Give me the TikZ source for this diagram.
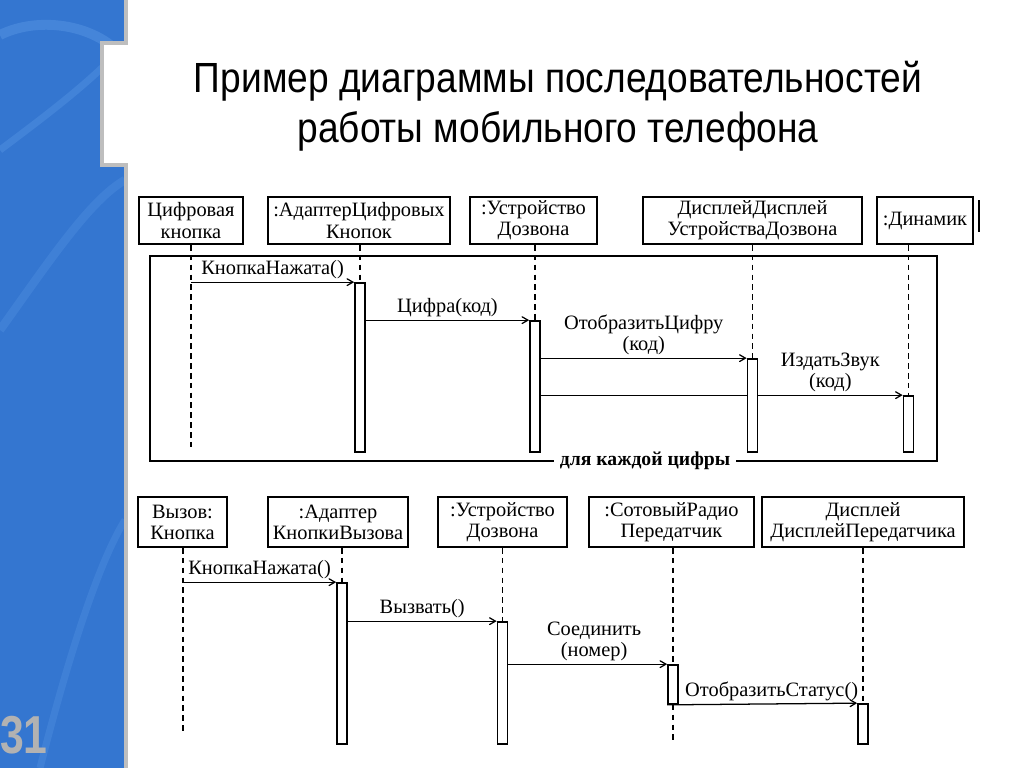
\documentclass[tikz,border=0pt]{standalone}
\usepackage{fontspec}
\setmainfont{Liberation Serif}
\newfontfamily\titlefont[FakeStretch=0.88]{Liberation Sans}
\newfontfamily\numfont[FakeStretch=0.8]{Liberation Sans}
\usetikzlibrary{arrows}
\usetikzlibrary{backgrounds}
\definecolor{slideblue}{RGB}{52,118,208}
\definecolor{swirl}{RGB}{110,170,240}
\definecolor{rimgray}{RGB}{190,190,190}
\definecolor{numgray}{RGB}{178,178,178}

\begin{document}
\begin{tikzpicture}
	[x=0.025cm,y=-0.025cm,>=angle 60,
	 every node/.style={font=\fontsize{14.5}{15}\selectfont},
	 box/.style={draw,line width=1.4pt,fill=white,align=center,inner sep=0pt},
	 bar/.style={draw,line width=1.2pt,fill=white,inner sep=0pt,minimum width=10*0.025cm},
	 life/.style={line width=1.1pt,dash pattern=on 4pt off 3pt},
	 msg/.style={->,line width=0.9pt},
	 lbl/.style={align=center,inner sep=2pt}]
	\useasboundingbox (0,0) rectangle (1024,768);

	% slide strip
	\fill[slideblue] (0,0) -- (125,0) -- (125,43) -- (102,43) -- (102,165) -- (125,165) -- (125,768) -- (0,768) -- cycle;
	\begin{scope}
	\clip (0,0) -- (125,0) -- (125,43) -- (102,43) -- (102,165) -- (125,165) -- (125,768) -- (0,768) -- cycle;
	\draw[swirl,line width=7pt,opacity=.3] (0,35) .. controls (40,15) and (100,25) .. (125,60);
	\draw[swirl,line width=5pt,opacity=.25] (0,150) .. controls (40,120) and (80,90) .. (110,60);
	\draw[swirl,line width=6pt,opacity=.2] (0,330) .. controls (50,260) and (90,200) .. (125,180);
	\draw[swirl,line width=5pt,opacity=.2] (40,768) .. controls (70,650) and (100,560) .. (125,520);
	\end{scope}
	\draw[rimgray,line width=2.5pt] (126,0) -- (126,43) -- (102,43) -- (102,165) -- (126,165) -- (126,768);
	\node[font=\numfont\bfseries\fontsize{38}{38}\selectfont,text=numgray,anchor=base east,inner sep=0pt] (num) at (48,753) {31};

	% title
	\node[font=\titlefont\fontsize{30}{36}\selectfont,anchor=base] (t1) at (558,93) {Пример диаграммы последовательностей};
	\node[font=\titlefont\fontsize{30}{36}\selectfont,anchor=base] (t2) at (558,143) {работы мобильного телефона};

	% first diagram
	\node[box,minimum width=104*0.025cm,minimum height=47*0.025cm] (n1) at (191,220.5) {Цифровая\\кнопка};
	\node[box,minimum width=182*0.025cm,minimum height=47*0.025cm] (n2) at (359,220.5) {:АдаптерЦифровых\\Кнопок};
	\node[box,minimum width=127*0.025cm,minimum height=47*0.025cm] (n3) at (533.5,220.5) {:Устройство\\Дозвона};
	\node[box,minimum width=219*0.025cm,minimum height=47*0.025cm] (n4) at (752.5,220.5) {ДисплейДисплей\\УстройстваДозвона};
	\node[box,minimum width=96*0.025cm,minimum height=47*0.025cm] (n5) at (925,220.5) {:Динамик};
	\draw[line width=1.2pt] (979,200) -- (979,232);

	\draw[line width=1.3pt] (150,256) rectangle (937,461);
	\node[fill=white,font=\bfseries\fontsize{14}{15}\selectfont,inner xsep=4pt,inner ysep=1pt] (loop) at (645,461) {для каждой цифры};

	\node[bar,minimum height=169*0.025cm] (b1) at (360,367.5) {};
	\node[bar,minimum height=131*0.025cm] (b2) at (535,386.5) {};
	\node[bar,minimum height=93*0.025cm] (b3) at (752.5,405.5) {};
	\node[bar,minimum height=56*0.025cm] (b4) at (908.5,424) {};

	\coordinate (e1) at (191,448);
	\draw[life] (n1.south) -- (e1);
	\draw[life] (n2.south -| b1.north) -- (b1.north);
	\draw[life] (n3.south -| b2.north) -- (b2.north);
	\draw[life] (n4.south -| b3.north) -- (b3.north);
	\draw[life] (n5.south -| b4.north) -- (b4.north);

	\begin{scope}[on background layer]
	\draw[msg] (n1.south |- b1.north) -- node[lbl,above] {КнопкаНажата()} (b1.north west);
	\draw[msg] (b1.east |- b2.north) -- node[lbl,above] {Цифра(код)} (b2.north west);
	\draw[msg] (b2.east |- b3.north) -- node[lbl,above] {ОтобразитьЦифру\\(код)} (b3.north west);
	\draw[msg] (b2.east |- b4.north) -- node[lbl,above,pos=0.8] {ИздатьЗвук\\(код)} (b4.north west);
	\end{scope}

	% second diagram
	\node[box,minimum width=89*0.025cm,minimum height=50*0.025cm] (p1) at (182.5,522) {Вызов:\\Кнопка};
	\node[box,minimum width=140*0.025cm,minimum height=50*0.025cm] (p2) at (338,522) {:Адаптер\\КнопкиВызова};
	\node[box,minimum width=129*0.025cm,minimum height=50*0.025cm] (p3) at (502.5,522) {:Устройство\\Дозвона};
	\node[box,minimum width=165*0.025cm,minimum height=50*0.025cm] (p4) at (671.5,522) {:СотовыйРадио\\Передатчик};
	\node[box,minimum width=202*0.025cm,minimum height=50*0.025cm] (p5) at (863,522) {Дисплей\\ДисплейПередатчика};

	\node[bar,minimum height=161*0.025cm] (c1) at (342,663.5) {};
	\node[bar,minimum height=122*0.025cm] (c2) at (502.5,683) {};
	\node[bar,minimum height=39*0.025cm] (c3) at (673,684.5) {};
	\node[bar,minimum height=40*0.025cm] (c4) at (863,724) {};

	\coordinate (e2) at (183,735);
	\coordinate (e3) at (673,744);
	\draw[life] (p1.south -| e2) -- (e2);
	\draw[life] (p2.south -| c1.north) -- (c1.north);
	\draw[life] (p3.south -| c2.north) -- (c2.north);
	\draw[life] (p4.south -| c3.north) -- (c3.north);
	\draw[life] (c3.south) -- (e3);
	\draw[life] (p5.south -| c4.north) -- (c4.north);

	\begin{scope}[on background layer]
	\draw[msg] (e2 |- c1.north) -- node[lbl,above] {КнопкаНажата()} (c1.north west);
	\draw[msg] (c1.east |- c2.north) -- node[lbl,above] {Вызвать()} (c2.north west);
	\draw[msg] (c2.east |- c3.north) -- node[lbl,above,pos=0.54] {Соединить\\(номер)} (c3.north west);
	\draw[msg] (c3.south west) -- node[lbl,above,pos=0.55] {ОтобразитьСтатус()} (c4.north west);
	\end{scope}
\end{tikzpicture}
\end{document}
